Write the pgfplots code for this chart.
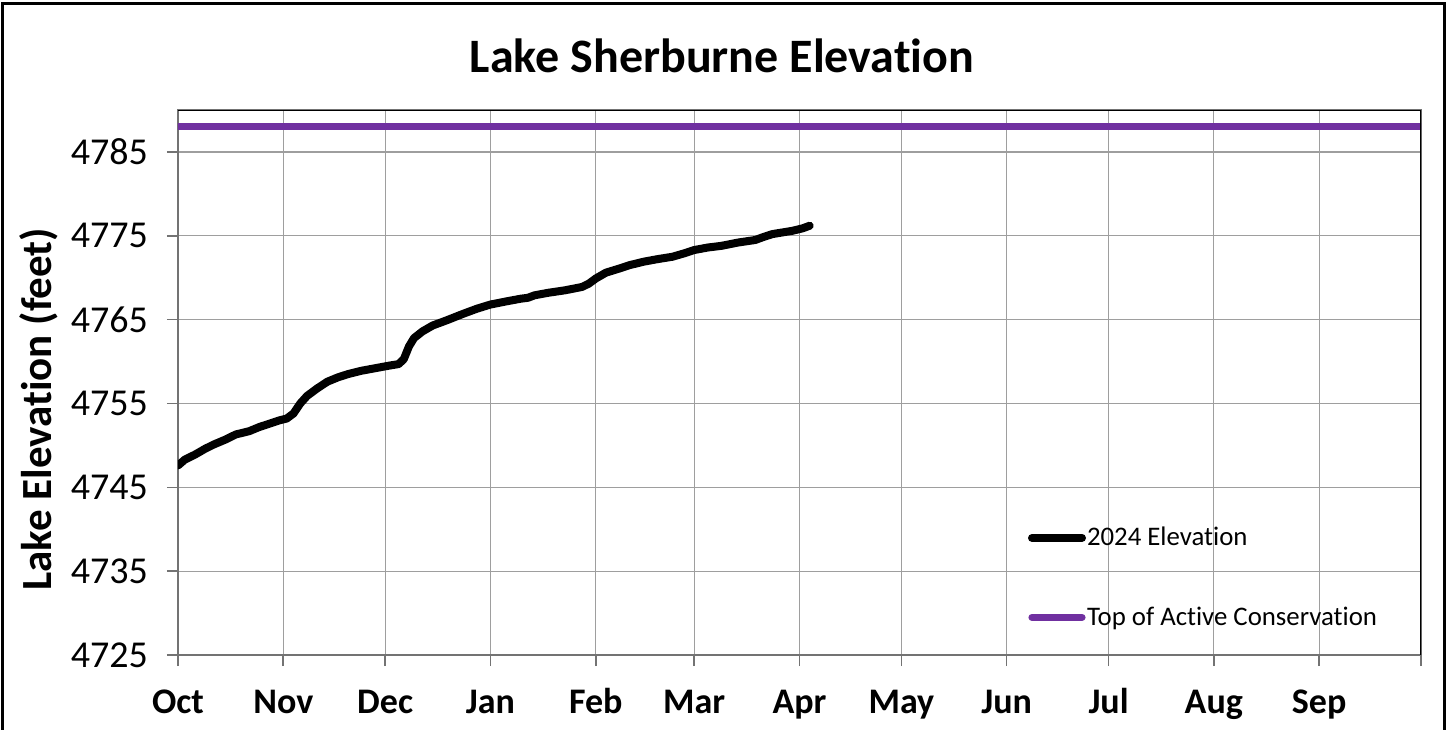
\documentclass[border=0pt]{standalone}
\usepackage{fontspec}
\setmainfont{Carlito}[RawFeature={-liga;-clig;-calt}]
\usepackage{pgfplots}
\pgfplotsset{compat=1.18}
\definecolor{tacpurple}{HTML}{7030A0}
\begin{document}
\begin{tikzpicture}[x=1pt,y=1pt]
\useasboundingbox (-89,-37) rectangle (636,327.5);
\draw[line width=1.5pt] (-87.5,-45) rectangle (633,325.5);
\node[font=\fontsize{24}{28}\selectfont\bfseries] at (272,299.5) {Lake Sherburne Elevation};
\begin{axis}[
  at={(0,0)}, anchor=south west,
  scale only axis, width=621.5pt, height=272.5pt,
  xmin=0, xmax=366, ymin=4725, ymax=4790,
  xtick={0,31,61,92,123,152,183,213,244,274,305,336,366},
  xticklabels={Oct,Nov,Dec,Jan,Feb,Mar,Apr,May,Jun,Jul,Aug,Sep,{}},
  ytick={4725,4735,4745,4755,4765,4775,4785},
  /pgf/number format/assume math mode=true,
  /pgf/number format/1000 sep={},
  grid=major, grid style={color=black!38, line width=0.6pt},
  axis line style={draw=black!55, line width=0.9pt},
  tick style={draw=black!55, line width=0.8pt},
  tick align=outside, major tick length=5.5pt,
  xtick pos=bottom, ytick pos=left,
  xticklabel style={font=\fontsize{18}{21}\selectfont\bfseries, anchor=base, yshift=-23.5pt},
  yticklabel style={font=\fontsize{19}{22}\selectfont, xshift=-6pt},
  ylabel={Lake Elevation (feet)},
  ylabel style={font=\fontsize{21.5}{25}\selectfont\bfseries, at={(axis description cs:-0.112,0.451)}, anchor=center},
  legend style={at={(rel axis cs:0.6835,0.142)}, anchor=west, draw=none, fill=none,
    font=\fontsize{13.4}{15}\selectfont, row sep=28pt, inner sep=0pt, nodes={inner sep=0.5pt}},
  legend cell align=left,
  legend image code/.code={\draw[#1, line cap=round] (0pt,0pt) -- (25pt,0pt);},
]
\addplot[black, line width=4pt, line cap=round, line join=round] coordinates {
(0,4747.6) (2,4748.3) (5,4748.9) (8,4749.6) (10.5,4750.1) (14,4750.7) (17,4751.3) (19,4751.5) (21,4751.7) (24,4752.2) (27,4752.6) (30,4753.0) (32,4753.2) (34,4753.8) (36,4755.0) (38,4755.9) (41,4756.8) (44,4757.6) (47,4758.1) (50,4758.5) (54,4758.9) (58,4759.2) (62,4759.5) (65,4759.7) (66.5,4760.3) (68,4761.8) (69.5,4762.8) (72,4763.6) (75,4764.3) (79,4764.9) (84,4765.7) (88,4766.3) (92,4766.8) (97,4767.2) (101,4767.5) (103,4767.6) (105,4767.9) (109,4768.2) (114,4768.5) (119,4768.9) (121,4769.3) (123,4769.9) (126,4770.6) (130,4771.1) (133,4771.5) (137,4771.9) (141,4772.2) (145.6,4772.5) (149,4772.9) (152,4773.3) (156,4773.6) (160,4773.8) (165,4774.2) (170,4774.5) (172,4774.8) (175,4775.2) (178,4775.4) (181,4775.6) (184,4775.9) (186,4776.2)
};
\addlegendentry{2024 Elevation}
\addplot[tacpurple, line width=3.6pt, line cap=round] coordinates {(0,4788) (366,4788)};
\addlegendentry{Top of Active Conservation}
\draw[black, line width=1pt] (rel axis cs:0,1) -- (rel axis cs:1,1) -- (rel axis cs:1,0);
\end{axis}
\end{tikzpicture}
\end{document}
